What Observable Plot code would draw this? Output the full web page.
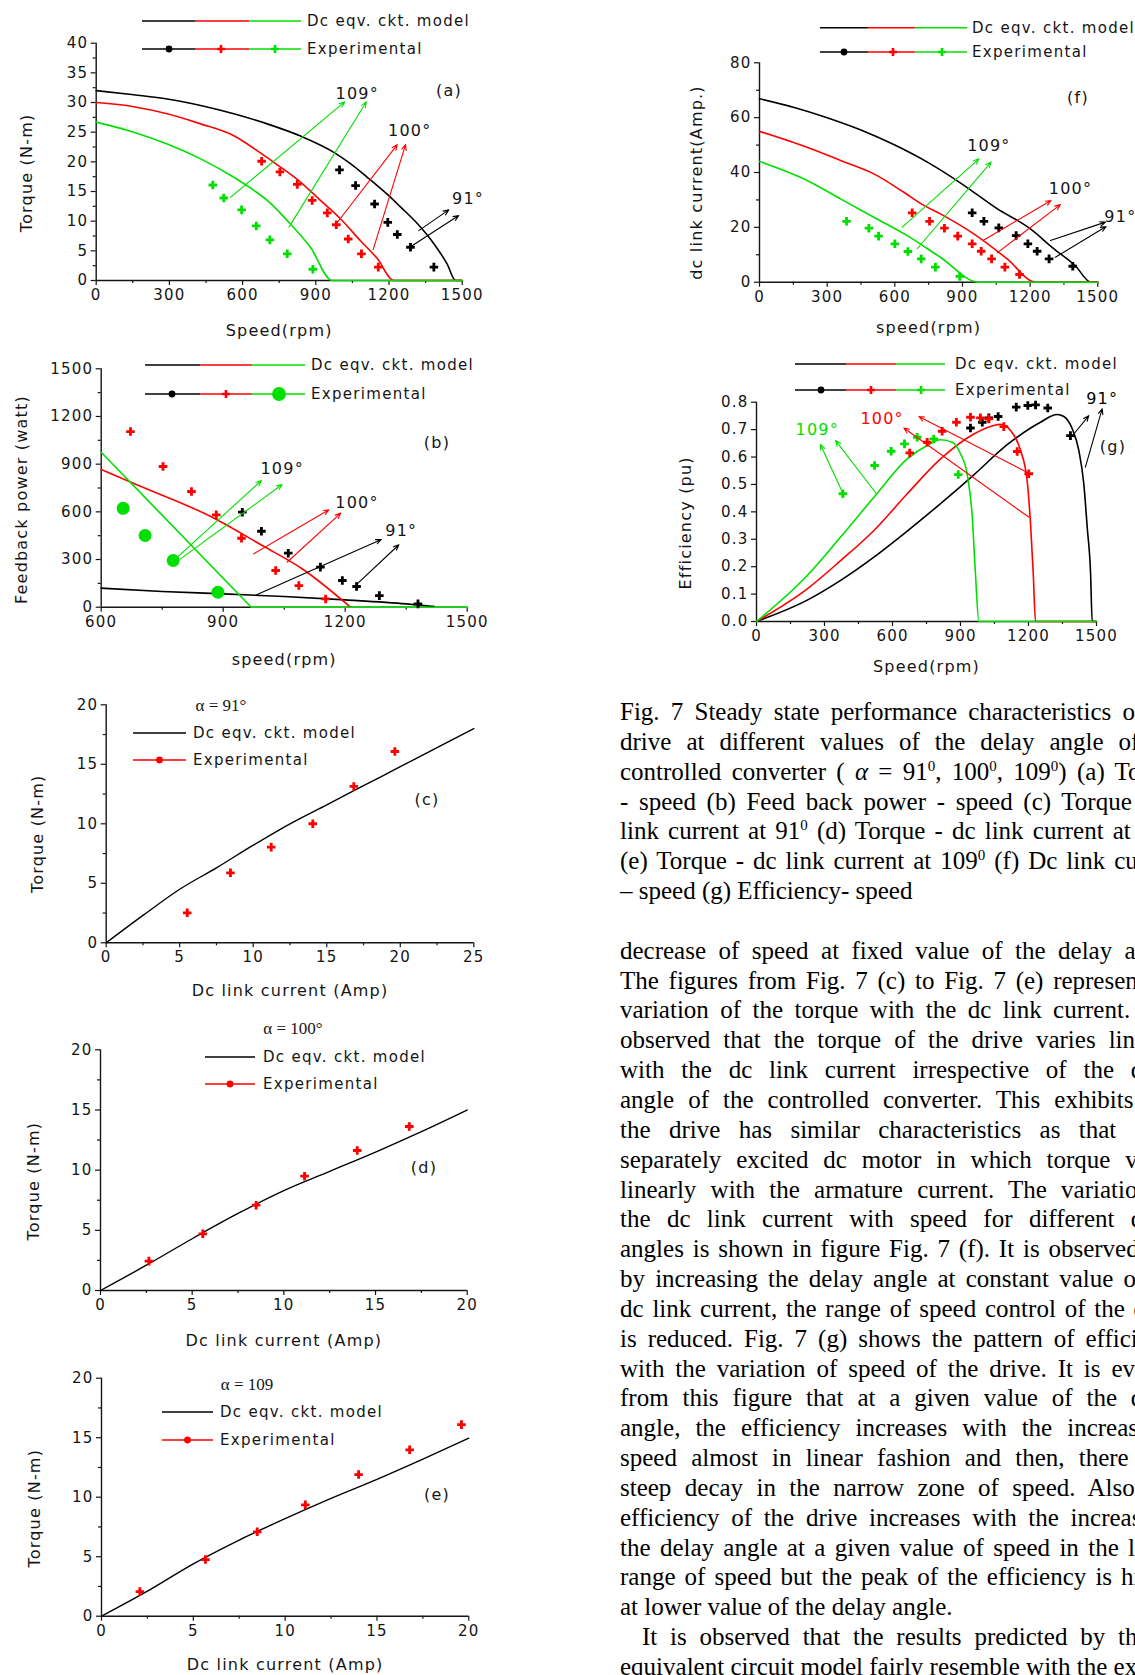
<!DOCTYPE html>
<html><head><meta charset="utf-8">
<script src="https://cdn.jsdelivr.net/npm/d3@7"></script>
<script src="https://cdn.jsdelivr.net/npm/@observablehq/plot@0.6"></script>
<style>
html,body{margin:0;padding:0;background:#fff;}
body{width:1135px;height:1675px;overflow:hidden;position:relative;}
.abs{position:absolute;}
.txt{position:absolute;left:620px;top:697px;font-family:"Liberation Serif","Times New Roman",serif;font-size:25px;line-height:29.85px;color:#000;}
.txt div{height:29.85px;width:max-content;min-width:565px;text-align:justify;text-align-last:justify;white-space:nowrap;}
.txt div.l{text-align:left;text-align-last:left;}
.txt sup{font-size:15px;line-height:0;vertical-align:9px;}
</style></head><body>
<div id="root"></div>
<script>
// ---------- DATA ----------
// angle keys: 91, 100, 109 (delay angle, degrees)
// (a) Torque (N-m) vs speed (rpm)
const torqueModel91  = [[0,32.0],[154,31.3],[291,30.6],[428,29.5],[564,28.1],[701,26.4],[840,24.3],[974,21.6],[1042,19.7],[1111,17.4],[1199,14.3],[1247,12.4],[1316,9.6],[1384,6.2],[1438,2.8],[1473,0],[1500,0]];
const torqueModel100 = [[0,30.0],[154,29.3],[291,28.1],[428,26.4],[564,24.4],[673,21.5],[742,19.5],[837,16.6],[919,13.5],[1001,10.4],[1083,6.7],[1152,3.7],[1220,0],[1500,0]];
const torqueModel109 = [[0,26.7],[154,25.0],[291,23.0],[428,20.5],[564,17.4],[646,15.2],[701,13.5],[783,10.1],[878,5.6],[967,0],[1500,0]];
const torqueExp91  = [[997,18.65],[1063,16.0],[1141,12.9],[1195,9.8],[1234,7.75],[1288,5.6],[1384,2.25]];
const torqueExp100 = [[678,20.1],[753,18.3],[824,16.2],[885,13.5],[947,11.4],[984,9.4],[1033,7.0],[1087,4.5],[1156,2.25]];
const torqueExp109 = [[478,16.1],[523,13.9],[596,11.9],[656,9.2],[712,6.85],[783,4.5],[888,1.9]];
const torqueArrows = [
  {a:109,x1:550,y1:14.0,x2:1018,y2:30.1},{a:109,x1:790,y1:9.0,x2:1107,y2:30.1},
  {a:100,x1:981,y1:9.4,x2:1234,y2:22.9},{a:100,x1:1135,y1:5.2,x2:1268,y2:22.9},
  {a:91,x1:1322,y1:8.4,x2:1445,y2:11.9},{a:91,x1:1285,y1:5.6,x2:1486,y2:10.95}];
const torqueLabels = [{a:109,x:1070,y:31.5},{a:100,x:1285,y:25.3},{a:91,x:1524,y:13.8}];

// (b) Feedback power (watt) vs speed (rpm)
const powerModel91  = [[600,120],[750,99],[900,84],[1050,67],[1200,46],[1350,21],[1418,5]];
const powerModel100 = [[600,866],[692,766],[873,566],[996,388],[1094,242],[1213,0]];
const powerModel109 = [[600,975],[969,0],[1500,0]];
const powerExp91  = [[947,598],[994,478],[1060,340],[1139,252],[1193,168],[1228,130],[1284,73],[1379,21]];
const powerExp100 = [[672,1105],[752,885],[822,728],[883,581],[945,434],[1029,231],[1086,136],[1152,52]];
const powerExp109 = [[654,622],[708,451],[777,294],[887,94]];
const powerArrows = [
  {a:109,x1:780,y1:298,x2:994,y2:797},{a:109,x1:795,y1:304,x2:1045,y2:772},
  {a:100,x1:975,y1:336,x2:1160,y2:613},{a:100,x1:1057,y1:283,x2:1189,y2:592},
  {a:91,x1:978,y1:74,x2:1289,y2:426},{a:91,x1:1221,y1:126,x2:1332,y2:393}];
const powerLabels = [{a:109,x:1045,y:870},{a:100,x:1229,y:655},{a:91,x:1338,y:483}];

// (c),(d),(e) Torque vs dc link current
const currentC = [0,2.5,5,7.5,10,12.5,15,17.5,20,22.5,25];
const torqueC  = [0,2.3,4.5,6.3,8.2,10,11.6,13.2,14.8,16.4,18];
const expC = [[5.51,2.52],[8.45,5.88],[11.22,8.04],[14.05,10.0],[16.84,13.14],[19.63,16.08]];
const currentD = [0,2.5,5,7.5,10,12.5,15,17.5,20];
const torqueD  = [0,2.1,4.3,6.4,8.3,9.9,11.5,13.2,15.0];
const expD = [[2.64,2.44],[5.58,4.71],[8.49,7.09],[11.13,9.5],[14.0,11.63],[16.84,13.63]];
const currentE = [0,2.5,5,7.5,10,12.5,15,17.5,20];
const torqueE  = [0,2.1,4.4,6.4,8.2,9.9,11.5,13.2,14.96];
const expE = [[2.09,2.07],[5.66,4.76],[8.48,7.09],[11.1,9.36],[14.0,11.9],[16.78,13.98],[19.6,16.1]];

// (f) dc link current (A) vs speed
const currentModel91  = [[0,66.9],[150,63.8],[300,60],[450,55.5],[600,50],[750,43.5],[900,35.7],[1050,27],[1200,19.5],[1300,12.5],[1400,6],[1470,0],[1500,0]];
const currentModel100 = [[0,55],[211,49.2],[359,44.4],[507,39.5],[640,32.8],[729,28.0],[802,24.9],[950,17.6],[1098,8.5],[1224,0],[1500,0]];
const currentModel109 = [[0,44],[211,37.1],[359,30.4],[507,23.7],[655,17.0],[802,9.1],[972,0],[1500,0]];
const currentExp91  = [[943,25.3],[995,22.2],[1061,19.8],[1138,17.0],[1190,14.0],[1231,11.3],[1284,8.5],[1389,5.8]];
const currentExp100 = [[677,25.3],[754,22.2],[820,19.7],[879,16.8],[943,14.0],[983,11.3],[1029,8.5],[1088,5.5],[1153,2.8]];
const currentExp109 = [[386,22.2],[485,19.7],[528,16.8],[600,14.0],[658,11.2],[717,8.5],[780,5.5],[888,2.1]];
const currentArrows = [
  {a:109,x1:633,y1:20.1,x2:973,y2:45.0},{a:109,x1:699,y1:12.2,x2:1027,y2:43.8},
  {a:100,x1:995,y1:15.4,x2:1293,y2:29.8},{a:100,x1:1054,y1:10.7,x2:1334,y2:28.3},
  {a:91,x1:1290,y1:15.2,x2:1534,y2:21.9},{a:91,x1:1312,y1:9.1,x2:1537,y2:20.3}];
const currentLabels = [{a:109,x:1017,y:49.8},{a:100,x:1379,y:34.0},{a:91,x:1600,y:23.7}];

// (g) Efficiency (pu) vs speed
const effModel91  = [[0,0],[224,0.078],[371,0.15],[518,0.235],[665,0.33],[812,0.43],[959,0.535],[1106,0.645],[1253,0.727],[1326,0.755],[1356,0.748],[1393,0.703],[1422,0.624],[1444,0.502],[1459,0.344],[1474,0.174],[1481,0],[1500,0]];
const effModel100 = [[0,0],[224,0.119],[371,0.222],[518,0.332],[665,0.466],[812,0.593],[959,0.684],[1047,0.715],[1076,0.719],[1121,0.697],[1165,0.624],[1194,0.514],[1209,0.356],[1221,0.174],[1231,0],[1500,0]];
const effModel109 = [[0,0],[224,0.168],[371,0.308],[518,0.453],[665,0.593],[753,0.642],[812,0.663],[863,0.654],[900,0.612],[929,0.539],[951,0.393],[966,0.174],[981,0],[1500,0]];
const effExp91  = [[944,0.706],[996,0.727],[1025,0.743],[1066,0.748],[1146,0.782],[1197,0.788],[1231,0.790],[1285,0.779],[1385,0.678]];
const effExp100 = [[676,0.615],[753,0.654],[819,0.694],[882,0.727],[944,0.745],[988,0.743],[1025,0.739],[1091,0.711],[1150,0.620],[1201,0.539]];
const effExp109 = [[381,0.466],[521,0.569],[594,0.621],[653,0.648],[709,0.672],[782,0.666],[890,0.536]];
const effArrows = [
  {a:109,x1:381,y1:0.468,x2:282,y2:0.646},{a:109,x1:529,y1:0.466,x2:349,y2:0.660},
  {a:100,x1:1201,y1:0.541,x2:716,y2:0.748},{a:100,x1:1201,y1:0.381,x2:650,y2:0.706},
  {a:91,x1:1400,y1:0.684,x2:1466,y2:0.751},{a:91,x1:1451,y1:0.563,x2:1525,y2:0.776}];
const effLabels = [{a:109,x:268,y:0.70},{a:100,x:554,y:0.739},{a:91,x:1525,y:0.812}];

// tick labels
const speedTicks = [0,300,600,900,1200,1500], speedMinor = [150,450,750,1050,1350];
const speedTicksB = [600,900,1200,1500], speedMinorB = [750,1050,1350];
const torqueTicks = [0,5,10,15,20,25,30,35,40], torqueMinor = [2.5,7.5,12.5,17.5,22.5,27.5,32.5,37.5];
const powerTicks = [0,300,600,900,1200,1500], powerMinor = [150,450,750,1050,1350];
const t20Ticks = [0,5,10,15,20], t20Minor = [2.5,7.5,12.5,17.5];
const i25Ticks = [0,5,10,15,20,25], i25Minor = [2.5,7.5,12.5,17.5,22.5];
const ampTicks = [0,20,40,60,80], ampMinor = [10,30,50,70];
const effTicks = [0,0.1,0.2,0.3,0.4,0.5,0.6,0.7,0.8];

// ---------- DRAW ----------
const C = {91:"#000000", 100:"#ff0000", 109:"#00e000"};
const root = document.getElementById("root");
const X = d => d[0], Y = d => d[1];
const zip = (a,b) => a.map((v,i)=>[v,b[i]]);

const modelLine = (pts, a) => Plot.line(pts, {x:X, y:Y, stroke:C[a], strokeWidth:1.6, curve:"monotone-x"});
const expDots = (pts, a, opt={}) => Plot.dot(pts, {x:X, y:Y, fill:C[a], symbol:opt.symbol||"cross", r:opt.r||3.6});
const arrowMarks = list => [91,100,109].map(a => Plot.arrow(list.filter(d=>d.a===a), {x1:"x1",y1:"y1",x2:"x2",y2:"y2",stroke:C[a],strokeWidth:1.1,headLength:8,headAngle:45}));
const degMarks = (list, colored) => list.map(d => Plot.text([d], {x:"x", y:"y", text:t=>t.a+"°", fill: colored ? C[d.a] : "#151515", fontSize:16}));

function panel(c){
  const [fl,ft,fr,fb] = c.frame;
  const fx = c.xFmt || (d=>String(d)), fy = c.yFmt || (d=>String(d));
  const marks = [
    Plot.axisX({ticks:c.xTicks, tickFormat:fx, tickSize:5, tickPadding:4, label:null, strokeWidth:1.2}),
    Plot.axisY({ticks:c.yTicks, tickFormat:fy, tickSize:5, tickPadding:3, label:null, strokeWidth:1.2})
  ];
  if (c.xMinor) marks.push(Plot.axisX({ticks:c.xMinor, tickFormat:()=>"", tickSize:3, label:null, strokeWidth:1.2}));
  if (c.yMinor) marks.push(Plot.axisY({ticks:c.yMinor, tickFormat:()=>"", tickSize:3, label:null, strokeWidth:1.2}));
  marks.push(Plot.ruleX([c.xDomain[0]], {stroke:"#151515", strokeWidth:1.4}));
  marks.push(Plot.ruleY([c.yDomain[0]], {stroke:"#151515", strokeWidth:1.4}));
  marks.push(...c.marks);
  marks.push(Plot.text([c.xTitle], {text:d=>d, frameAnchor:"bottom", dy:c.xDy, lineAnchor:"middle", fontSize:16}));
  marks.push(Plot.text([c.yTitle], {text:d=>d, frameAnchor:"left", rotate:-90, dx:c.yDx, dy:c.yDy, lineAnchor:"middle", textAnchor:"middle", fontSize:16}));
  const p = Plot.plot({
    width:c.W, height:c.H,
    marginLeft:fl-c.L, marginTop:ft-c.T, marginRight:c.L+c.W-fr, marginBottom:c.T+c.H-fb,
    x:{type:"linear", domain:c.xDomain},
    y:{type:"linear", domain:c.yDomain},
    style:"font-family:'DejaVu Sans',sans-serif;font-size:15px;letter-spacing:1.2px;color:#151515;background:none;overflow:visible;max-width:none;",
    marks
  });
  const div = document.createElement("div");
  div.className = "abs"; div.style.left = c.L+"px"; div.style.top = c.T+"px";
  div.appendChild(p); root.appendChild(div);
}

// (a)
panel({L:0,T:0,W:500,H:345, frame:[95.7,42.7,461.7,280],
  xDomain:[0,1500], xTicks:speedTicks, xMinor:speedMinor, yDomain:[0,40], yTicks:torqueTicks, yMinor:torqueMinor,
  xTitle:"Speed(rpm)", xDy:50, yTitle:"Torque (N-m)", yDx:-69, yDy:11,
  marks:[modelLine(torqueModel91,91), modelLine(torqueModel100,100), modelLine(torqueModel109,109),
    expDots(torqueExp91,91), expDots(torqueExp100,100), expDots(torqueExp109,109),
    ...arrowMarks(torqueArrows), ...degMarks(torqueLabels,false)]});
// (b)
panel({L:0,T:345,W:500,H:330, frame:[100.7,368.3,466.7,606.7],
  xDomain:[600,1500], xTicks:speedTicksB, xMinor:speedMinorB, yDomain:[0,1500], yTicks:powerTicks, yMinor:powerMinor,
  xTitle:"speed(rpm)", xDy:53, yTitle:"Feedback power (watt)", yDx:-79, yDy:11.5,
  marks:[modelLine(powerModel91,91), modelLine(powerModel100,100), Plot.line(powerModel109,{x:X,y:Y,stroke:C[109],strokeWidth:1.6}),
    expDots(powerExp91,91), expDots(powerExp100,100), expDots(powerExp109,109,{symbol:"circle",r:6.5}),
    ...arrowMarks(powerArrows), ...degMarks(powerLabels,false)]});
// (c)
panel({L:0,T:675,W:500,H:330, frame:[105.7,704.3,473.3,942.3],
  xDomain:[0,25], xTicks:i25Ticks, xMinor:i25Minor, yDomain:[0,20], yTicks:t20Ticks, yMinor:t20Minor,
  xTitle:"Dc link current (Amp)", xDy:48, yTitle:"Torque (N-m)", yDx:-68, yDy:10,
  marks:[Plot.line(zip(currentC,torqueC),{x:X,y:Y,stroke:"#000",strokeWidth:1.4,curve:"monotone-x"}), expDots(expC,100)]});
// (d)
panel({L:0,T:1005,W:500,H:345, frame:[100,1049.3,466.7,1290],
  xDomain:[0,20], xTicks:t20Ticks, xMinor:t20Minor, yDomain:[0,20], yTicks:t20Ticks, yMinor:t20Minor,
  xTitle:"Dc link current (Amp)", xDy:50, yTitle:"Torque (N-m)", yDx:-67, yDy:11,
  marks:[Plot.line(zip(currentD,torqueD),{x:X,y:Y,stroke:"#000",strokeWidth:1.4,curve:"monotone-x"}), expDots(expD,100)]});
// (e)
panel({L:0,T:1350,W:500,H:325, frame:[101,1377.7,468.3,1615.7],
  xDomain:[0,20], xTicks:t20Ticks, xMinor:t20Minor, yDomain:[0,20], yTicks:t20Ticks, yMinor:t20Minor,
  xTitle:"Dc link current (Amp)", xDy:49, yTitle:"Torque (N-m)", yDx:-67, yDy:11,
  marks:[Plot.line(zip(currentE,torqueE),{x:X,y:Y,stroke:"#000",strokeWidth:1.4,curve:"monotone-x"}), expDots(expE,100)]});
// (f)
panel({L:600,T:0,W:535,H:345, frame:[759,62.3,1097.3,281.7],
  xDomain:[0,1500], xTicks:speedTicks, xMinor:speedMinor, yDomain:[0,80], yTicks:ampTicks, yMinor:ampMinor,
  xTitle:"speed(rpm)", xDy:46, yTitle:"dc link current(Amp.)", yDx:-63, yDy:10,
  marks:[modelLine(currentModel91,91), modelLine(currentModel100,100), modelLine(currentModel109,109),
    expDots(currentExp91,91), expDots(currentExp100,100), expDots(currentExp109,109),
    ...arrowMarks(currentArrows), ...degMarks(currentLabels,false)]});
// (g)
panel({L:600,T:345,W:535,H:330, frame:[756,401.7,1096,621],
  xDomain:[0,1500], xTicks:speedTicks, xMinor:speedMinor, yDomain:[0,0.8], yTicks:effTicks, yFmt:d3.format(".1f"),
  xTitle:"Speed(rpm)", xDy:45, yTitle:"Efficiency (pu)", yDx:-71, yDy:11,
  marks:[modelLine(effModel91,91), modelLine(effModel100,100), modelLine(effModel109,109),
    expDots(effExp91,91), expDots(effExp100,100), expDots(effExp109,109),
    ...arrowMarks(effArrows), ...degMarks(effLabels,true)]});

// ---------- LEGENDS / PANEL TAGS (overlay) ----------
const ov = d3.select(root).append("svg").attr("class","abs").attr("width",1135).attr("height",1675)
  .style("left","0px").style("top","0px").style("overflow","visible").style("pointer-events","none");
const lt = (x,y,s,opt={}) => ov.append("text").attr("x",x).attr("y",y).attr("dominant-baseline","central")
  .attr("text-anchor",opt.anchor||"start").attr("font-family",opt.family||"DejaVu Sans").attr("font-size",opt.size||15)
  .style("letter-spacing",opt.ls||"1.3px").attr("fill","#151515").text(s);
const seg = (x1,x2,y,col,w=1.6) => ov.append("line").attr("x1",x1).attr("x2",x2).attr("y1",y).attr("y2",y).attr("stroke",col).attr("stroke-width",w);
const mk = (x,y,col,kind,size) => ov.append("path").attr("transform",`translate(${x},${y})`)
  .attr("d", d3.symbol(kind==="circle"?d3.symbolCircle:d3.symbolCross, size||40)()).attr("fill",col);
function seriesLegend(y1,y2,xs,tx,mx,bigGreen){
  const cols=[C[91],C[100],C[109]];
  for(let i=0;i<3;i++){ seg(xs[i],xs[i+1],y1,cols[i]); seg(xs[i],xs[i+1],y2,cols[i]); }
  mk(mx[0],y2,cols[0],"circle",36); mk(mx[1],y2,cols[1],"cross",34);
  if(bigGreen) mk(mx[2],y2,cols[2],"circle",150); else mk(mx[2],y2,cols[2],"cross",34);
  lt(tx,y1,"Dc eqv. ckt. model"); lt(tx,y2,"Experimental");
}
seriesLegend(21,49,[142,195,249,301],307,[169,221,275],false);
seriesLegend(365,394,[145,200,252,305],311,[172,226,279],true);
seriesLegend(27.7,52,[820,868,915,967],972,[844,893,942],false);
seriesLegend(364,390,[795,846,896,945],955,[821,871,921],false);
function singleLegend(y1,y2,x1,x2,tx,alpha,ax,ay){
  seg(x1,x2,y1,"#000",1.4); seg(x1,x2,y2,C[100],1.6); mk((x1+x2)/2,y2,C[100],"circle",36);
  lt(tx,y1,"Dc eqv. ckt. model"); lt(tx,y2,"Experimental");
  lt(ax,ay,alpha,{anchor:"middle",family:"Liberation Serif",size:17,ls:"0px"});
}
singleLegend(733,760,133,186,193,"α = 91°",221,705);
singleLegend(1057,1084,205,255,263,"α = 100°",293,1028);
singleLegend(1412,1440,162,213,220,"α = 109",247,1384);
[["(a)",449,90],["(b)",437,442],["(c)",427,799],["(d)",424,1167],["(e)",437,1494],["(f)",1078,97],["(g)",1113,446]]
  .forEach(([s,x,y]) => lt(x,y,s,{anchor:"middle",size:16}));

// ---------- TEXT COLUMN ----------
const textLines = [
 ["Fig. 7 Steady state performance characteristics of the",""],
 ["drive at different values of the delay angle of the",""],
 ["controlled converter ( <i>α</i> = 91<sup>0</sup>, 100<sup>0</sup>, 109<sup>0</sup>) (a) Torque",""],
 ["- speed (b) Feed back power - speed (c) Torque - dc",""],
 ["link current at 91<sup>0</sup> (d) Torque - dc link current at 100<sup>0</sup>",""],
 ["(e) Torque - dc link current at 109<sup>0</sup> (f) Dc link current",""],
 ["– speed (g) Efficiency- speed","l"],
 ["&nbsp;","l"],
 ["decrease of speed at fixed value of the delay angle.",""],
 ["The figures from Fig. 7 (c) to Fig. 7 (e) represent the",""],
 ["variation of the torque with the dc link current. It is",""],
 ["observed that the torque of the drive varies linearly",""],
 ["with the dc link current irrespective of the delay",""],
 ["angle of the controlled converter. This exhibits that",""],
 ["the drive has similar characteristics as that of a",""],
 ["separately excited dc motor in which torque varies",""],
 ["linearly with the armature current. The variation of",""],
 ["the dc link current with speed for different delay",""],
 ["angles is shown in figure Fig. 7 (f). It is observed that",""],
 ["by increasing the delay angle at constant value of the",""],
 ["dc link current, the range of speed control of the drive",""],
 ["is reduced. Fig. 7 (g) shows the pattern of efficiency",""],
 ["with the variation of speed of the drive. It is evident",""],
 ["from this figure that at a given value of the delay",""],
 ["angle, the efficiency increases with the increase of",""],
 ["speed almost in linear fashion and then, there is a",""],
 ["steep decay in the narrow zone of speed. Also, the",""],
 ["efficiency of the drive increases with the increase of",""],
 ["the delay angle at a given value of speed in the lower",""],
 ["range of speed but the peak of the efficiency is higher",""],
 ["at lower value of the delay angle.","l"],
 ["It is observed that the results predicted by the dc","i"],
 ["equivalent circuit model fairly resemble with the experimental",""]
];
const tx = document.createElement("div"); tx.className="txt";
textLines.forEach(([h,cls]) => {
  const d = document.createElement("div");
  if (cls==="l") d.className="l";
  if (cls==="i") { d.style.paddingLeft="22px"; d.style.minWidth="543px"; }
  d.innerHTML = h; tx.appendChild(d);
});
root.appendChild(tx);
</script>
</body></html>
